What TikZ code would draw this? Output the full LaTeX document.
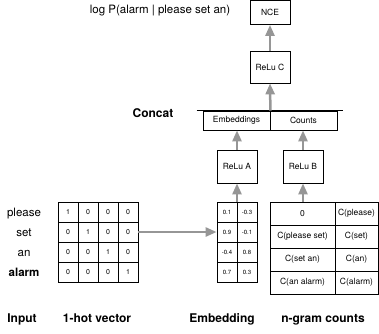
\documentclass[tikz,border=0pt]{standalone}
\usepackage{fontspec}
\setmainfont{TeX Gyre Heros}
\usetikzlibrary{arrows.meta,positioning}
\definecolor{flowgray}{RGB}{150,150,150}

\begin{document}
\begin{tikzpicture}[x=1pt,y=-1pt,
    box/.style={draw,line width=0.8pt,minimum width=40pt,minimum height=32pt,inner sep=0pt,font=\fontsize{8.5}{10}\selectfont},
    cell/.style={draw,line width=0.8pt,minimum width=20pt,minimum height=20pt,inner sep=0pt,font=\fontsize{7}{8}\selectfont},
    emb/.style={cell,font=\fontsize{6}{7}\selectfont},
    cnt/.style={draw,line width=0.8pt,minimum height=23pt,inner sep=0pt,font=\fontsize{8.5}{10}\selectfont},
    flow/.style={draw=flowgray,line width=2.5pt,-{Triangle[length=11pt,width=9pt]}},
    word/.style={anchor=base,font=\fontsize{11.5}{13}\selectfont},
    caption/.style={anchor=base,font=\bfseries\fontsize{12}{14}\selectfont},
]
    \useasboundingbox (0,0) rectangle (379,333);

    % top of the network
    \node[box,minimum height=24pt] (nce) at (270,12.5) {NCE};
    \node[box] (reluC) at (270,67) {ReLu C};
    \node[anchor=base,font=\fontsize{11.5}{13}\selectfont] (logp) at (160,13) {log P(alarm | please set an)};

    % concat layer
    \node[box,minimum width=67pt,minimum height=19pt] (embs) at (236.5,120.5) {Embeddings};
    \node[box,minimum width=67pt,minimum height=19pt] (cnts) at (303.5,120.5) {Counts};
    \draw[line width=0.8pt] ([xshift=-6pt]embs.north west) -- ([xshift=6pt]cnts.north east);
    \node[caption] (concat) at (153,117) {Concat};

    \node[box,minimum height=33pt] (reluA) at (237,166.5) {ReLu A};
    \node[box,minimum height=33pt] (reluB) at (303,166.5) {ReLu B};

    % 1-hot vectors
    \foreach \r in {0,...,3}
        \foreach \c in {0,...,3}
            \node[cell] (hot-\r-\c) at (68+20*\c,212+20*\r) {\ifnum\r=\c\relax 1\else 0\fi};

    % embedding values
    \foreach \a/\b [count=\r from 0] in {0.1/-0.3,0.9/-0.1,-0.4/0.8,0.7/0.3}{
        \node[emb] (emb-\r-0) at (227,212+20*\r) {\a};
        \node[emb] (emb-\r-1) at (247,212+20*\r) {\b};
    }

    % n-gram counts
    \foreach \a/\b [count=\r from 0] in {0/C(please),C(please set)/C(set),C(set an)/C(an),C(an alarm)/C(alarm)}{
        \node[cnt,minimum width=65pt] (cnt-\r-0) at (302.5,213.5+23*\r) {\a};
        \node[cnt,minimum width=43pt] (cnt-\r-1) at (356.5,213.5+23*\r) {\b};
    }

    % input words
    \foreach \w [count=\r from 0] in {please,set,an}
        \node[word] (w-\r) at (24,216+20*\r) {\w};
    \node[word,font=\bfseries\fontsize{11.5}{13}\selectfont] (w-3) at (24,276) {alarm};

    % captions
    \node[caption] (capIn) at (22,322) {Input};
    \node[caption] (capHot) at (97,322) {1-hot vector};
    \node[caption] (capEmb) at (222,322) {Embedding};
    \node[caption] (capCnt) at (323,322) {n-gram counts};

    % connections
    \draw[flow] (hot-1-3.east) -- (emb-1-0.west);
    \draw[flow] (reluA.south |- emb-0-0.north) -- (reluA.south);
    \draw[flow] (reluB.south |- cnt-0-0.north) -- (reluB.south);
    \draw[flow] (reluA.north) -- (reluA.north |- embs.south);
    \draw[flow] (reluB.north) -- (reluB.north |- cnts.south);
    \draw[flow] (embs.north east) -- (reluC.south);
    \draw[flow] (reluC.north) -- (nce.south);
\end{tikzpicture}
\end{document}
